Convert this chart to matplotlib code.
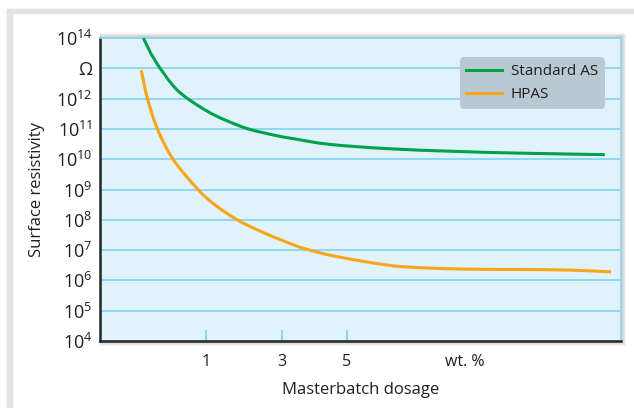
import matplotlib
matplotlib.use("Agg")
import matplotlib.pyplot as plt
from matplotlib.patches import Rectangle, PathPatch
from matplotlib.path import Path
from matplotlib.lines import Line2D
import numpy as np

plt.rcParams['font.family'] = ['Open Sans', 'DejaVu Sans']
plt.rcParams['mathtext.fontset'] = 'custom'
plt.rcParams['mathtext.rm'] = 'Open Sans'
plt.rcParams['mathtext.it'] = 'Open Sans'

# x = position along the dosage axis (0..10 across the plot), y = log10 of resistivity
std_x = [0.84, 1.06, 1.41, 1.69, 2.08, 2.40, 2.85, 3.36, 3.74, 4.41, 5.50, 6.78, 8.06, 9.69]
std_log = [14.0, 13.27, 12.43, 12.0, 11.57, 11.30, 11.0, 10.79, 10.67, 10.49, 10.35, 10.26, 10.2, 10.15]

hpas_x = [0.80, 0.92, 1.11, 1.41, 1.89, 2.21, 2.64, 3.10, 3.55, 3.93, 4.51, 5.50, 6.14, 7.10, 8.06, 9.02, 9.81]
hpas_log = [12.94, 12.0, 11.0, 10.0, 9.0, 8.5, 8.0, 7.61, 7.29, 7.05, 6.80, 6.51, 6.42, 6.37, 6.36, 6.34, 6.28]

xtick_pos = [2.05, 3.49, 4.74, 7.0]
xtick_labels = ['1', '3', '5', 'wt. %']

ytick_exp = [4, 5, 6, 7, 8, 9, 10, 11, 12, 13, 14]
ytick_labels = [r'$\mathregular{10^{%d}}$' % e for e in ytick_exp]
ytick_labels[ytick_exp.index(13)] = 'Ω'

text_col = '#1f1f1f'
grid_col = '#7fd2f2'
green = '#00a14b'
orange = '#f8a51b'


def smooth_path(xs, ys):
    # Catmull-Rom through the read points, drawn as cubic Bezier segments
    p = np.column_stack([xs, ys])
    p = np.vstack([p[0], p, p[-1]])
    verts = [p[1]]
    codes = [Path.MOVETO]
    for i in range(1, len(p) - 2):
        c1 = p[i] + (p[i + 1] - p[i - 1]) / 6.0
        c2 = p[i + 1] - (p[i + 2] - p[i]) / 6.0
        verts += [c1, c2, p[i + 1]]
        codes += [Path.CURVE4] * 3
    return Path(verts, codes)


W, H = 634, 408
fig = plt.figure(figsize=(W / 100, H / 100), dpi=100)

# grey frame (top and left strips)
fig.patches.append(Rectangle((7 / W, 0), 5 / W, (H - 9) / H, transform=fig.transFigure,
                             color='#dde3e8', zorder=-5))
fig.patches.append(Rectangle((7 / W, (H - 13) / H), (W - 7) / W, 4 / H, transform=fig.transFigure,
                             color='#dde3e8', zorder=-5))

left, bottom, width, height = 99.5, 67, 521.5, 303

# soft drop shadow behind the plot box
for i in range(1, 6):
    fig.patches.append(Rectangle((left / W, (bottom - i) / H), (width + i) / W, (height + 2 * i) / H,
                                 transform=fig.transFigure, color='#555555', alpha=0.07,
                                 zorder=-2, lw=0))

ax = fig.add_axes([left / W, bottom / H, width / W, height / H])
ax.set_facecolor('#e0f3fb')

ax.add_patch(PathPatch(smooth_path(std_x, std_log), fill=False, edgecolor=green, lw=2.2,
                       capstyle='butt', zorder=3))
ax.add_patch(PathPatch(smooth_path(hpas_x, hpas_log), fill=False, edgecolor=orange, lw=2.2,
                       capstyle='butt', zorder=3))

ax.set_ylim(4, 14)
ax.set_xlim(0, 10)
ax.set_yticks(ytick_exp)
ax.set_yticklabels(ytick_labels)
ax.set_xticks(xtick_pos)
ax.set_xticklabels(xtick_labels)

ax.yaxis.grid(True, color=grid_col, lw=1.2)
ax.set_axisbelow(True)

ax.tick_params(axis='y', length=0, pad=5, labelsize=13, labelcolor=text_col)
ax.tick_params(axis='x', direction='in', length=8, width=1.3, color=grid_col, pad=9,
               labelsize=11.5, labelcolor=text_col)
ax.xaxis.get_major_ticks()[3].tick1line.set_visible(False)

for s in ['left', 'bottom']:
    ax.spines[s].set_color('#262626')
    ax.spines[s].set_linewidth(1.8)
for s in ['top', 'right']:
    ax.spines[s].set_color('#8dd5f2')
    ax.spines[s].set_linewidth(1.2)

ax.set_ylabel('Surface resistivity', fontsize=12, color=text_col)
ax.yaxis.set_label_coords((45 - left) / width, 0.5)
ax.set_xlabel('Masterbatch dosage', fontsize=12, color=text_col)
ax.xaxis.set_label_coords(0.5, (341 - 382) / height)

handles = [Line2D([], [], color=green, lw=2.2), Line2D([], [], color=orange, lw=2.2)]
leg = ax.legend(handles, ['Standard AS', 'HPAS'], loc='upper right',
                bbox_to_anchor=(0.969, 0.937), borderaxespad=0,
                fontsize=11, handlelength=2.3, handletextpad=0.6, labelspacing=0.53,
                borderpad=0.45, fancybox=True, facecolor='#b9c9d1', edgecolor='none',
                framealpha=1)
for t in leg.get_texts():
    t.set_color(text_col)
leg.get_frame().set_boxstyle('round', pad=0.0, rounding_size=0.3)

fig.savefig('out.png', dpi=100)
